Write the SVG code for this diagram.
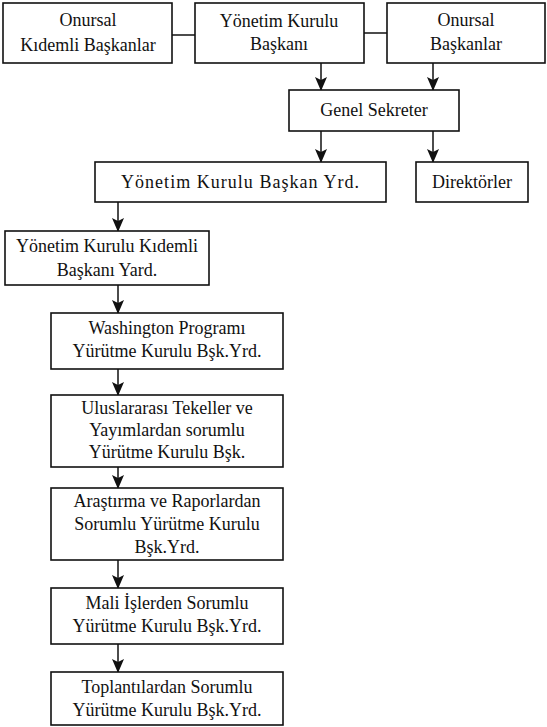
<svg xmlns="http://www.w3.org/2000/svg" width="547" height="727" viewBox="0 0 547 727">
<style>
rect.box{fill:#fff;stroke:#111;stroke-width:1.6}
text{font-family:'Liberation Serif','DejaVu Serif',serif;font-size:18px;fill:#111;text-anchor:middle}
.c line{stroke:#111;stroke-width:1.5}
</style>
<defs>
<marker id="ad" markerUnits="userSpaceOnUse" markerWidth="12" markerHeight="16" viewBox="0 0 12 16" refX="6" refY="15" orient="0">
<path d="M0,2 L6,5 L12,2 L6,16 Z" fill="#111"/>
</marker>
</defs>
<rect width="547" height="727" fill="#fff"/>
<g class="c" id="connectors">
<line x1="172" y1="35" x2="195" y2="35"/>
<line x1="364" y1="33" x2="387" y2="33"/>
<line x1="321" y1="63" x2="321" y2="90" marker-end="url(#ad)"/>
<line x1="433" y1="63" x2="433" y2="90" marker-end="url(#ad)"/>
<line x1="321" y1="131" x2="321" y2="162" marker-end="url(#ad)"/>
<line x1="433" y1="131" x2="433" y2="162" marker-end="url(#ad)"/>
<line x1="118" y1="202" x2="118" y2="231" marker-end="url(#ad)"/>
<line x1="118" y1="285" x2="118" y2="313" marker-end="url(#ad)"/>
<line x1="118" y1="369" x2="118" y2="395" marker-end="url(#ad)"/>
<line x1="118" y1="467" x2="118" y2="488" marker-end="url(#ad)"/>
<line x1="118" y1="560" x2="118" y2="588" marker-end="url(#ad)"/>
<line x1="118" y1="644" x2="118" y2="672" marker-end="url(#ad)"/>
</g>
<g id="n1"><rect class="box" x="3" y="3" width="169" height="60"/><text x="88" y="26" font-family="Liberation Serif, serif">Onursal</text><text x="88" y="51" font-family="Liberation Serif, serif">Kıdemli Başkanlar</text></g>
<g id="n2"><rect class="box" x="195" y="3" width="169" height="60"/><text x="279" y="27" font-family="Liberation Serif, serif">Yönetim Kurulu</text><text x="279" y="50" font-family="Liberation Serif, serif">Başkanı</text></g>
<g id="n3"><rect class="box" x="387" y="3" width="158" height="60"/><text x="466" y="26" font-family="Liberation Serif, serif">Onursal</text><text x="466" y="50" font-family="Liberation Serif, serif">Başkanlar</text></g>
<g id="n4"><rect class="box" x="289" y="90" width="170" height="41"/><text x="374" y="116" font-family="Liberation Serif, serif">Genel Sekreter</text></g>
<g id="n5"><rect class="box" x="95" y="162" width="291" height="40"/><text x="240" y="188" font-family="Liberation Serif, serif" textLength="238">Yönetim Kurulu Başkan Yrd.</text></g>
<g id="n6"><rect class="box" x="416" y="162" width="112" height="40"/><text x="472" y="188" font-family="Liberation Serif, serif">Direktörler</text></g>
<g id="n7"><rect class="box" x="5" y="231" width="204" height="54"/><text x="107" y="252" font-family="Liberation Serif, serif">Yönetim Kurulu Kıdemli</text><text x="107" y="276" font-family="Liberation Serif, serif">Başkanı Yard.</text></g>
<g id="n8"><rect class="box" x="51" y="313" width="232" height="56"/><text x="167" y="334" font-family="Liberation Serif, serif">Washington Programı</text><text x="167" y="357" font-family="Liberation Serif, serif">Yürütme Kurulu Bşk.Yrd.</text></g>
<g id="n9"><rect class="box" x="51" y="395" width="232" height="72"/><text x="167" y="414" font-family="Liberation Serif, serif">Uluslararası Tekeller ve</text><text x="167" y="436" font-family="Liberation Serif, serif">Yayımlardan sorumlu</text><text x="167" y="458" font-family="Liberation Serif, serif">Yürütme Kurulu Bşk.</text></g>
<g id="n10"><rect class="box" x="51" y="488" width="232" height="72"/><text x="167" y="507" font-family="Liberation Serif, serif">Araştırma ve Raporlardan</text><text x="167" y="530" font-family="Liberation Serif, serif">Sorumlu Yürütme Kurulu</text><text x="167" y="553" font-family="Liberation Serif, serif">Bşk.Yrd.</text></g>
<g id="n11"><rect class="box" x="51" y="588" width="232" height="56"/><text x="167" y="609" font-family="Liberation Serif, serif">Mali İşlerden Sorumlu</text><text x="167" y="632" font-family="Liberation Serif, serif">Yürütme Kurulu Bşk.Yrd.</text></g>
<g id="n12"><rect class="box" x="51" y="672" width="232" height="53"/><text x="167" y="693" font-family="Liberation Serif, serif">Toplantılardan Sorumlu</text><text x="167" y="716" font-family="Liberation Serif, serif">Yürütme Kurulu Bşk.Yrd.</text></g>
</svg>
